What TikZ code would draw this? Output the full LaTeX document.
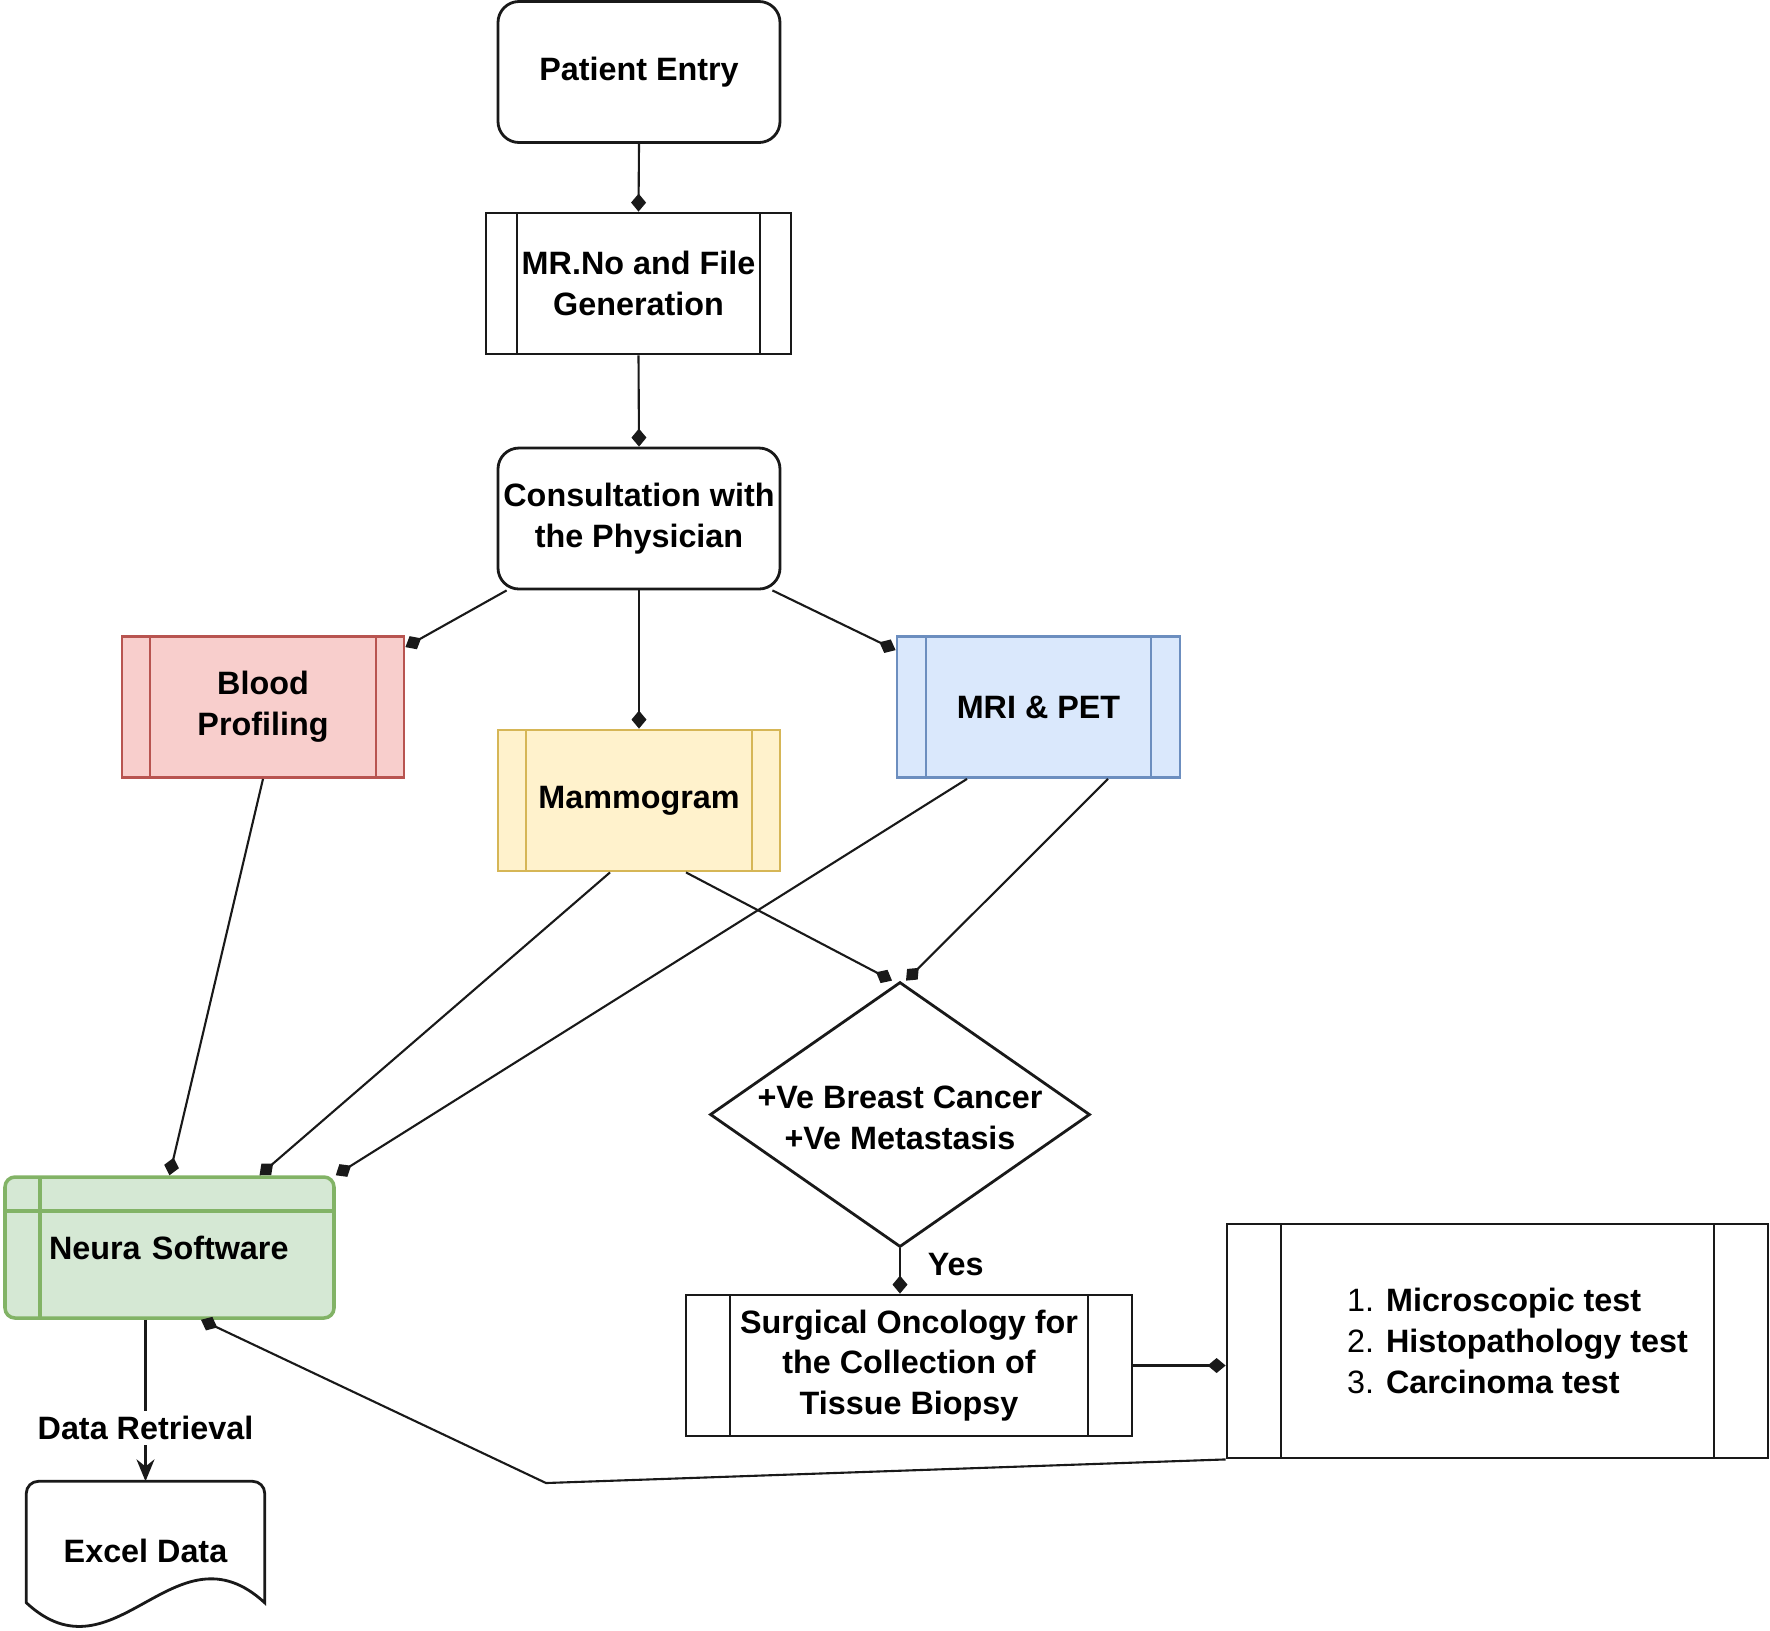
\documentclass[tikz,border=0pt]{standalone}
\usepackage{fontspec}
\setmainfont{Liberation Sans}
\usetikzlibrary{arrows.meta,positioning,shapes.geometric,calc}
\definecolor{ink}{RGB}{25,25,25}
\definecolor{rosefill}{HTML}{F8CECC}
\definecolor{roseline}{HTML}{B85450}
\definecolor{sandfill}{HTML}{FFF2CC}
\definecolor{sandline}{HTML}{D6B656}
\definecolor{skyfill}{HTML}{DAE8FC}
\definecolor{skyline}{HTML}{6C8EBF}
\definecolor{mintfill}{HTML}{D5E8D4}
\definecolor{mintline}{HTML}{82B366}
\newcommand\nodefont{\fontsize{9.2}{11.6}\selectfont\bfseries}
\tikzset{
  >={Stealth[length=2.2mm,width=1.8mm]},
  wire/.style={draw=ink,line width=0.6pt},
  dmd/.style={-{Diamond[length=1.8mm,width=1.5mm]}},
  term/.style={draw=ink,line width=0.8pt,rounded corners=2.1mm,fill=white,inner xsep=0.5mm,
    minimum width=2.82cm,minimum height=1.41cm,align=center,font=\nodefont},
  subproc/.style 2 args={draw=#1,line width=0.8pt,minimum height=1.41cm,
    align=center,font=\nodefont,
    path picture={\draw[#1,line width=0.8pt]
      ([xshift=#2]path picture bounding box.north west) -- ([xshift=#2]path picture bounding box.south west)
      ([xshift=-#2]path picture bounding box.north east) -- ([xshift=-#2]path picture bounding box.south east);}},
  decision/.style={diamond,draw=ink,line width=0.8pt,minimum width=3.8cm,
    minimum height=2.65cm,inner sep=0pt},
  store/.style={draw=mintline,fill=mintfill,line width=1pt,rounded corners=1mm,
    minimum width=3.29cm,minimum height=1.41cm,text width=2.41cm,align=left,font=\nodefont,
    path picture={\draw[mintline,line width=1pt]
      ([xshift=3.5mm]path picture bounding box.north west) -- ([xshift=3.5mm]path picture bounding box.south west)
      ([yshift=-3.4mm]path picture bounding box.north west) -- ([yshift=-3.4mm]path picture bounding box.north east);}},
}
\begin{document}
\begin{tikzpicture}
  \useasboundingbox (0,0) rectangle (17.7,-16.3);
  % main column
  \node[term] (entry) at (6.39,-0.72) {Patient Entry};
  \node[subproc={ink}{0.31cm},minimum width=3.05cm] (mrno) at (6.385,-2.835) {MR.No and File\\Generation};
  \node[term] (consult) at (6.39,-5.185) {Consultation with\\the Physician};
  % investigations
  \node[subproc={roseline}{0.28cm},fill=rosefill,minimum width=2.82cm] (blood) at (2.63,-7.07) {Blood\\Profiling};
  \node[subproc={sandline}{0.28cm},fill=sandfill,minimum width=2.82cm] (mammo) at (6.39,-8.005) {Mammogram};
  \node[subproc={skyline}{0.29cm},fill=skyfill,minimum width=2.83cm] (mri) at (10.385,-7.07) {MRI \& PET};
  % decision and follow-up
  \node[decision] (cancer) at (9.0,-11.145) {};
  \node[font=\nodefont,align=center] (cancertxt) at (9.0,-11.18) {+Ve Breast Cancer\\+Ve Metastasis};
  \node[subproc={ink}{0.44cm},minimum width=4.46cm] (surgery) at (9.09,-13.655) {Surgical Oncology for\\the Collection of\\Tissue Biopsy};
  \node[subproc={ink}{0.54cm},minimum width=5.41cm,minimum height=2.34cm,align=left] (tests) at (14.975,-13.41)
    {\hspace{0.4cm}{\mdseries 1.} Microscopic test\\\hspace{0.4cm}{\mdseries 2.} Histopathology test\\\hspace{0.4cm}{\mdseries 3.} Carcinoma test};
  % software and export
  \node[store] (neura) at (1.695,-12.475) {\mbox{Neura\hspace{0.35em}Software}};
  \node[minimum width=2.37cm,minimum height=1.2cm,font=\nodefont] (excel) at (1.455,-15.42) {\raisebox{-0.2cm}[0pt][0pt]{Excel Data}};
  \draw[ink,line width=0.8pt] (excel.south west) [rounded corners=1.2mm] -- (excel.north west) -- (excel.north east)
    [sharp corners] -- (excel.south east) .. controls (1.75,-15.2) and (1.15,-16.85) .. (excel.south west) -- cycle;
  \coordinate (kink) at (5.46,-14.83);
  % connectors
  \draw[wire,dmd] (entry.south) -- (mrno.north);
  \draw[wire,dmd] (mrno.south) -- (consult.north);
  \draw[wire,dmd] ([xshift=0.1cm]consult.south west) -- ([yshift=-0.12cm]blood.north east);
  \draw[wire,dmd] (consult.south) -- (mammo.north);
  \draw[wire,dmd] ([xshift=-0.09cm]consult.south east) -- ([yshift=-0.15cm]mri.north west);
  \draw[wire,dmd] (blood.south) -- (neura.north);
  \draw[wire,dmd] ([xshift=-0.29cm]mammo.south) -- ([xshift=0.9cm]neura.north);
  \draw[wire,dmd] ([xshift=-0.715cm]mri.south) -- (neura.north east);
  \draw[wire,dmd] ([xshift=0.47cm]mammo.south) -- ([xshift=-0.08cm]cancer.north);
  \draw[wire,dmd] ([xshift=0.695cm]mri.south) -- ([xshift=0.06cm]cancer.north);
  \draw[wire,dmd] (cancer.south) -- node[anchor=west,xshift=1.5mm,pos=0.35,font=\nodefont] {Yes} (cancer.south |- surgery.north);
  \draw[wire,dmd] (surgery.east) -- (surgery.east -| tests.west);
  \draw[wire,dmd] (tests.south west) -- (kink) -- ([xshift=0.315cm]neura.south);
  \draw[wire,->] (neura.south -| excel.north) -- node[pos=0.67,fill=white,inner sep=1.5pt,font=\nodefont] {Data Retrieval} (excel.north);
\end{tikzpicture}
\end{document}
